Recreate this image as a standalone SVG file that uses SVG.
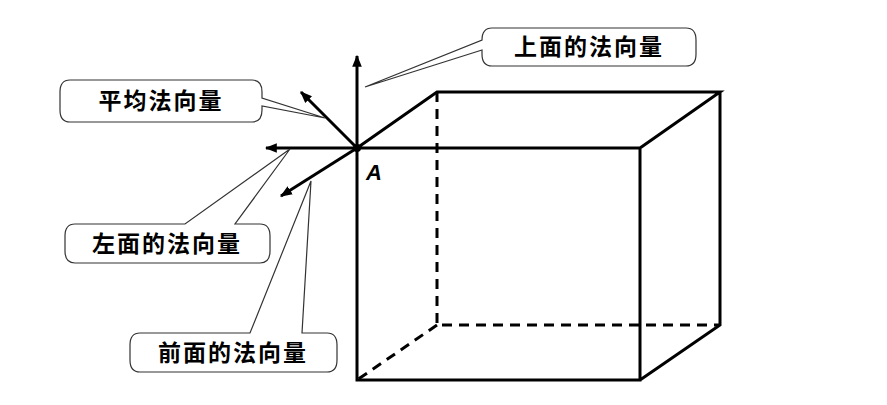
<svg xmlns="http://www.w3.org/2000/svg" width="887" height="405" viewBox="0 0 887 405">
<defs>
<marker id="ah" viewBox="0 0 10 10" refX="9" refY="5" markerWidth="4" markerHeight="4" orient="auto-start-reverse"><path d="M0,1 L10,5 L0,9 z" fill="#000"/></marker>
<style>
.l{stroke:#000;stroke-width:3;fill:none}
.d{stroke:#000;stroke-width:3;fill:none;stroke-dasharray:10 7}
.v{stroke:#000;stroke-width:3;fill:none;marker-end:url(#ah)}
.c{fill:#fff;stroke:#333;stroke-width:1.2}
.t{font-family:"Noto Sans CJK SC",sans-serif;font-size:23px;font-weight:bold;fill:#000;text-anchor:middle;letter-spacing:2px}
</style>
</defs>
<rect width="887" height="405" fill="#fff"/>
<g id="cube">
<path class="l" d="M357,148 H640 V380 H357 Z M357,148 L437,92 H720 L640,148 M720,92 V325 L640,380"/>
<path class="d" d="M437,92 V325 H720 M437,325 L357,380"/>
</g>
<g id="connectors">
<line class="v" x1="357" y1="148" x2="357" y2="56"/>
<line class="v" x1="357" y1="148" x2="266" y2="148"/>
<line class="v" x1="357" y1="148" x2="301" y2="92"/>
<line class="v" x1="357" y1="148" x2="281" y2="196"/>
<circle cx="357" cy="148" r="4" fill="#000"/>
</g>
<text x="366" y="180" font-family="Liberation Sans,sans-serif" font-size="22" font-style="italic" font-weight="bold">A</text>
<g id="top-callout">
<path class="c" d="M492,28 H686 Q696,28 696,40 V54 Q696,66 686,66 H492 Q482,66 482,54 V50 L365,87 L482,40 Q482,28 492,28 Z"/>
<text class="t" x="589" y="55">上面的法向量</text>
</g>
<g id="avg-callout">
<path class="c" d="M70,80 H252 Q262,80 262,92 V98 L325,118 L262,106 V110 Q262,122 252,122 H70 Q60,122 60,110 V92 Q60,80 70,80 Z"/>
<text class="t" x="161" y="109">平均法向量</text>
</g>
<g id="left-callout">
<path class="c" d="M75,224 H185 L290,149 L235,224 H260 Q270,224 270,236 V251 Q270,263 260,263 H75 Q65,263 65,251 V236 Q65,224 75,224 Z"/>
<text class="t" x="167" y="252">左面的法向量</text>
</g>
<g id="front-callout">
<path class="c" d="M140,333 H250 L311,181 L302,333 H327 Q337,333 337,345 V360 Q337,372 327,372 H140 Q130,372 130,360 V345 Q130,333 140,333 Z"/>
<text class="t" x="233" y="361">前面的法向量</text>
</g>
</svg>
